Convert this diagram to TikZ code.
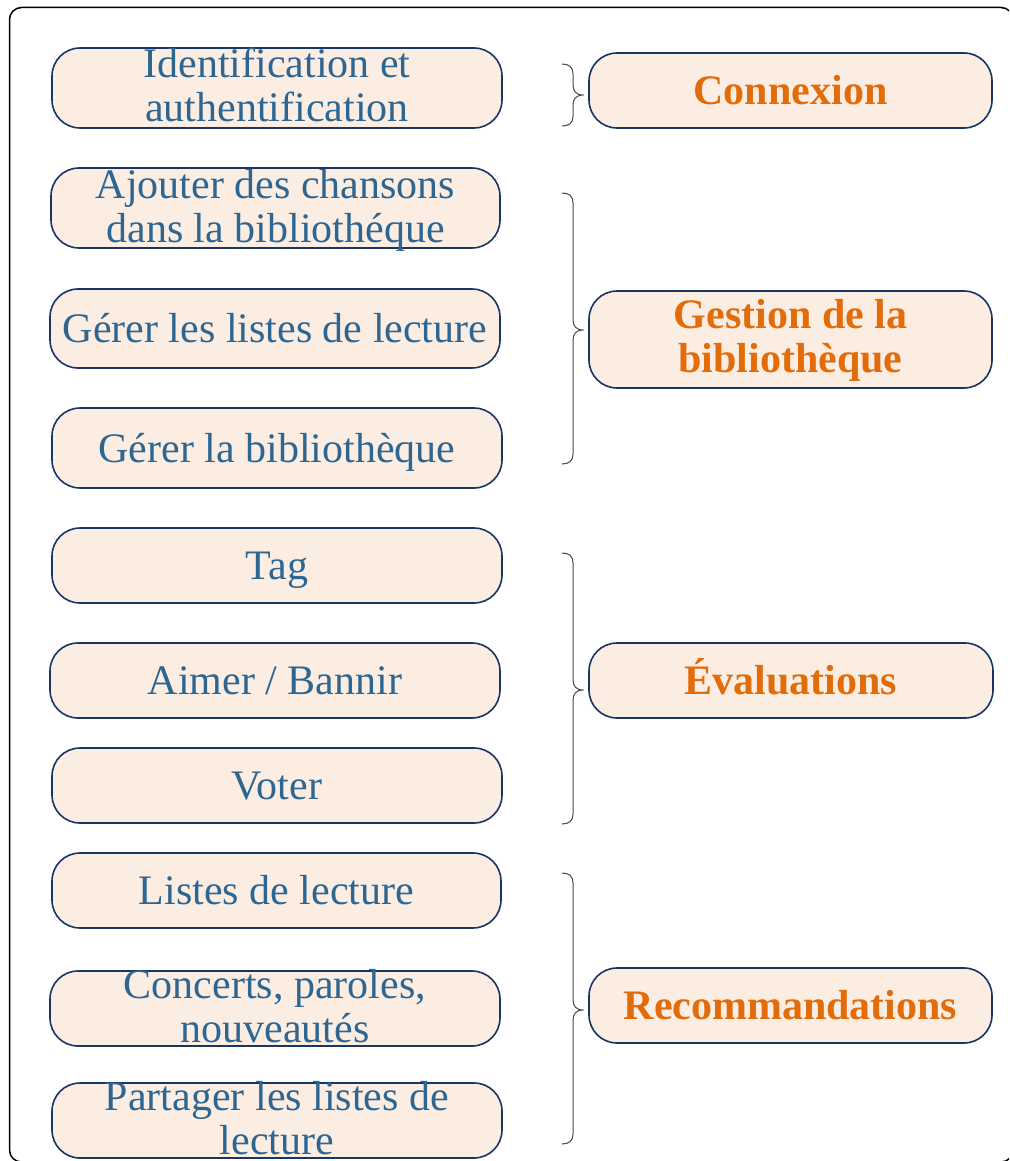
\documentclass[tikz,border=0pt]{standalone}
\usepackage{fontspec}
\setmainfont{Liberation Serif}
\usetikzlibrary{calc}
\definecolor{txtblue}{RGB}{46,102,146}
\definecolor{txtorange}{RGB}{227,108,10}
\definecolor{boxfill}{RGB}{252,237,227}
\definecolor{boxline}{RGB}{23,54,100}
\definecolor{bracegray}{RGB}{70,70,70}
\newcommand\drawcbrace[3]{%
  \draw[bracestyle] (562,#1) .. controls (569,#1) and (573,#1+3) .. (573,#1+10)
    -- (573,#2-10) .. controls (573,#2-4) and (576,#2) .. (583.5,#2)
    .. controls (576,#2) and (573,#2+4) .. (573,#2+10)
    -- (573,#3-10) .. controls (573,#3-3) and (569,#3) .. (562,#3);}
\begin{document}
\begin{tikzpicture}[x=1pt,y=-1pt,
  catbox/.style={draw=boxline, fill=boxfill, line width=1.6pt, rounded corners=28pt, inner sep=0pt},
  ltxt/.style={anchor=base, inner sep=0pt, text=txtblue, font=\fontsize{42}{44}\selectfont},
  rtxt/.style={anchor=base, inner sep=0pt, text=txtorange, font=\fontsize{42}{44}\selectfont\bfseries},
  bracestyle/.style={draw=bracegray, line width=1pt},
  framestyle/.style={draw=black, line width=1.5pt, rounded corners=12pt}]
\useasboundingbox (0,0) rectangle (1009,1161);
\clip (0,0) rectangle (1009,1161);
\draw[framestyle] (9.5,7.5) rectangle (1013,1162);

% left boxes
\node[catbox, minimum width=450, minimum height=80] (id) at (277,88) {};
\node[ltxt] (idA) at ($(id.center)+(0,-10)$) {Identification et};
\node[ltxt] (idB) at ($(id.center)+(0,34)$) {authentification};

\node[catbox, minimum width=449, minimum height=80] (aj) at (275.5,208) {};
\node[ltxt] (ajA) at ($(aj.center)+(0,-10)$) {Ajouter des chansons};
\node[ltxt] (ajB) at ($(aj.center)+(0,34)$) {dans la bibliothéque};

\node[catbox, minimum width=450, minimum height=79] (gl) at (275,328.5) {};
\node[ltxt] (glA) at ($(gl.center)+(0,14)$) {Gérer les listes de lecture};

\node[catbox, minimum width=450, minimum height=80] (gb) at (277,448) {};
\node[ltxt] (gbA) at ($(gb.center)+(0,14)$) {Gérer la bibliothèque};

\node[catbox, minimum width=450, minimum height=75] (tg) at (277,565.5) {};
\node[ltxt] (tgA) at ($(tg.center)+(0,14)$) {Tag};

\node[catbox, minimum width=450, minimum height=75] (ab) at (275,680.5) {};
\node[ltxt] (abA) at ($(ab.center)+(0,14)$) {Aimer / Bannir};

\node[catbox, minimum width=450, minimum height=75] (vo) at (277,785.5) {};
\node[ltxt] (voA) at ($(vo.center)+(0,14)$) {Voter};

\node[catbox, minimum width=449, minimum height=75] (ll) at (276.5,890.5) {};
\node[ltxt] (llA) at ($(ll.center)+(0,14)$) {Listes de lecture};

\node[catbox, minimum width=450, minimum height=75] (cp) at (275,1008.5) {};
\node[ltxt] (cpA) at ($(cp.center)+(0,-10)$) {Concerts, paroles,};
\node[ltxt] (cpB) at ($(cp.center)+(0,34)$) {nouveautés};

\node[catbox, minimum width=450, minimum height=75] (pl) at (277,1120.5) {};
\node[ltxt] (plA) at ($(pl.center)+(0,-10)$) {Partager les listes de};
\node[ltxt] (plB) at ($(pl.center)+(0,34)$) {lecture};

% right boxes
\node[catbox, minimum width=403, minimum height=75] (cx) at (790.5,90.5) {};
\node[rtxt] (cxA) at ($(cx.center)+(0,14)$) {Connexion};

\node[catbox, minimum width=403, minimum height=97] (gs) at (790.5,339.5) {};
\node[rtxt] (gsA) at ($(gs.center)+(0,-11)$) {Gestion de la};
\node[rtxt] (gsB) at ($(gs.center)+(0,33)$) {bibliothèque};

\node[catbox, minimum width=404, minimum height=75] (ev) at (791,680.5) {};
\node[rtxt] (evA) at ($(ev.center)+(0,14)$) {Évaluations};

\node[catbox, minimum width=403, minimum height=75] (rc) at (790.5,1005.5) {};
\node[rtxt] (rcA) at ($(rc.center)+(0,14)$) {Recommandations};

% braces
\drawcbrace{64}{95}{126}
\drawcbrace{193}{330}{464}
\drawcbrace{553}{690}{824}
\drawcbrace{873}{1010}{1144}
\end{tikzpicture}
\end{document}
